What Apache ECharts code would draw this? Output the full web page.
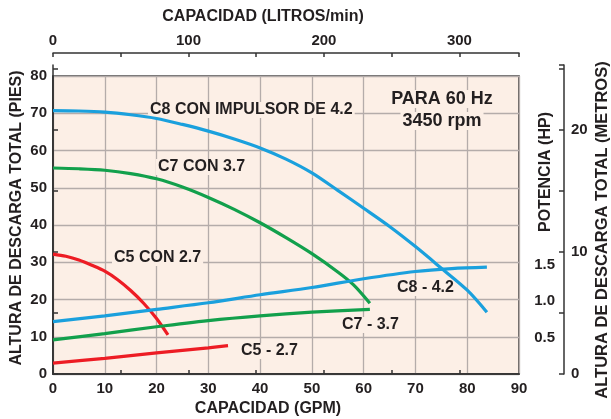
<!DOCTYPE html>
<html>
<head>
<meta charset="utf-8">
<script src="https://cdn.jsdelivr.net/npm/echarts@6/dist/echarts.min.js"></script>
<style>
  html, body { margin: 0; padding: 0; background: #fff; }
  #main { width: 611px; height: 419px; }
</style>
</head>
<body>
<div id="main"></div>
<script>
// capacidad (GPM) and altura (pies)
var c8HeadGpm = [0, 5, 10, 15, 20, 25, 30, 35, 40, 45, 50, 55, 60, 65, 70, 75, 80, 83.8];
var c8HeadFt  = [70.7, 70.6, 70.3, 69.6, 68.6, 67, 65.2, 63.1, 60.7, 57.7, 54, 49.3, 44.5, 39.6, 34.2, 28.4, 22.5, 16.6];
var c7HeadGpm = [0, 5, 10, 15, 20, 25, 30, 35, 40, 45, 50, 55, 58, 61.2];
var c7HeadFt  = [55.3, 55.1, 54.7, 53.8, 52.4, 50.2, 47.4, 44.2, 40.6, 36.6, 32.3, 27.4, 24, 19];
var c5HeadGpm = [0, 2.5, 5, 7.5, 10, 12.5, 15, 17.5, 20, 22.2];
var c5HeadFt  = [32.2, 31.6, 30.6, 29.2, 27.6, 25.3, 22.4, 19, 14.9, 10.5];

// potencia (HP) curves
var c8HpGpm = [0, 10, 20, 30, 40, 50, 60, 70, 77, 83.8];
var c8Hp    = [0.72, 0.8, 0.89, 0.98, 1.09, 1.19, 1.31, 1.41, 1.45, 1.47];
var c7HpGpm = [0, 10, 20, 30, 40, 50, 61.2];
var c7Hp    = [0.47, 0.555, 0.65, 0.735, 0.8, 0.85, 0.89];
var c5HpGpm = [0, 10, 20, 30, 33.8];
var c5Hp    = [0.15, 0.215, 0.29, 0.36, 0.39];

var hpLabels = [0.5, 1.0, 1.5];
var meterLabels = [0, 10, 20];
var litrosLabels = [0, 100, 200, 300];

var FONT = '"Liberation Sans", Arial, Helvetica, sans-serif';
var INK = '#231f20';
var BLUE = '#1aa0dd', GREEN = '#12a04c', RED = '#ed1c24';

function pairs(xs, ys) {
  return xs.map(function (x, i) { return [x, ys[i]]; });
}

function curve(name, xs, ys, color, yIdx) {
  return {
    name: name, type: 'line', xAxisIndex: 0, yAxisIndex: yIdx,
    data: pairs(xs, ys), showSymbol: false, smooth: 0.3,
    lineStyle: { color: color, width: 3.2 }, itemStyle: { color: color },
    silent: true, z: 3
  };
}

function txt(s, x, y, size, opts) {
  opts = opts || {};
  return {
    type: 'text', x: x, y: y, rotation: opts.rot || 0, z: 1,
    style: {
      text: s, font: 'bold ' + size + 'px ' + FONT, fill: INK,
      align: opts.align || 'left', verticalAlign: 'middle',
      backgroundColor: opts.bg || null, padding: opts.bg ? [0, 2] : 0
    }
  };
}

var chartDom = document.getElementById('main');
var myChart = echarts.init(chartDom, null, { renderer: 'canvas' });

var tickLabel = { color: INK, fontSize: 15, fontWeight: 'bold', fontFamily: FONT };
var darkLine = { lineStyle: { color: '#333', width: 1.5 } };
var PLOT = '#fcefe6';

var option = {
  animation: false,
  grid: [
    { left: 53, right: 92, top: 76, bottom: 45, show: true, backgroundColor: PLOT,
      borderColor: '#3a3a3a', borderWidth: 1.5 },
    { left: 53, right: 47, top: 65, bottom: 45 }
  ],
  xAxis: [
    { type: 'value', gridIndex: 0, position: 'bottom', min: 0, max: 90, interval: 10,
      axisLine: darkLine, axisTick: { show: false },
      axisLabel: Object.assign({ margin: 7 }, tickLabel),
      splitLine: { lineStyle: { color: '#b4acaa', width: 1.3 } } },
    { type: 'value', gridIndex: 0, position: 'top', offset: 23, min: 0, max: 344, interval: 50,
      axisLine: darkLine, axisTick: { length: 4, lineStyle: { color: '#333', width: 1.5 } },
      axisLabel: Object.assign({ margin: 5, showMaxLabel: false, formatter: function (v) {
        return litrosLabels.indexOf(v) >= 0 ? String(v) : ''; } }, tickLabel),
      splitLine: { show: false } },
    { type: 'value', gridIndex: 0, position: 'top', offset: 23, min: 0, max: 344, interval: 50,
      axisLine: darkLine, axisTick: { inside: true, length: 4, lineStyle: { color: '#333', width: 1.5 } },
      axisLabel: { show: false }, splitLine: { show: false } },
    { type: 'value', gridIndex: 1, show: false, min: 0, max: 1 }
  ],
  yAxis: [
    { type: 'value', gridIndex: 0, min: 0, max: 80, interval: 10,
      axisLine: darkLine, axisTick: { show: false },
      axisLabel: Object.assign({ margin: 6 }, tickLabel),
      splitLine: { lineStyle: { color: '#b4acaa', width: 1.3 } } },
    { type: 'value', gridIndex: 0, position: 'right', offset: 45, min: 0, max: 4.1, interval: 0.5,
      axisLine: { show: false }, axisTick: { show: false }, splitLine: { show: false },
      axisLabel: Object.assign({ inside: true, margin: 9, showMaxLabel: false, formatter: function (v) {
        return hpLabels.indexOf(+v.toFixed(1)) >= 0 ? v.toFixed(1) : ''; } }, tickLabel) },
    { type: 'value', gridIndex: 1, position: 'right', min: 0, max: 25.3, interval: 5,
      axisLine: darkLine, axisTick: { length: 5, lineStyle: { color: '#333', width: 1.5 } },
      axisLabel: Object.assign({ margin: 7, showMaxLabel: false, formatter: function (v) {
        return meterLabels.indexOf(v) >= 0 ? String(v) : ''; } }, tickLabel),
      splitLine: { show: false } },
    { type: 'value', gridIndex: 1, position: 'right', min: 0, max: 25.3, interval: 5,
      axisLine: darkLine, axisTick: { inside: true, length: 5, lineStyle: { color: '#333', width: 1.5 } },
      axisLabel: { show: false }, splitLine: { show: false } }
  ],
  series: [
    curve('C8 CON IMPULSOR DE 4.2', c8HeadGpm, c8HeadFt, BLUE, 0),
    curve('C7 CON 3.7', c7HeadGpm, c7HeadFt, GREEN, 0),
    curve('C5 CON 2.7', c5HeadGpm, c5HeadFt, RED, 0),
    curve('C8 - 4.2', c8HpGpm, c8Hp, BLUE, 1),
    curve('C7 - 3.7', c7HpGpm, c7Hp, GREEN, 1),
    curve('C5 - 2.7', c5HpGpm, c5Hp, RED, 1)
  ],
  graphic: { elements: [
    txt('CAPACIDAD (LITROS/min)', 263, 17, 16, { align: 'center' }),
    txt('CAPACIDAD (GPM)', 268, 409, 16, { align: 'center' }),
    txt('ALTURA DE DESCARGA TOTAL (PIES)', 17, 218, 16, { align: 'center', rot: Math.PI / 2 }),
    txt('ALTURA DE DESCARGA TOTAL (METROS)', 602, 230, 16.5, { align: 'center', rot: Math.PI / 2 }),
    txt('POTENCIA (HP)', 546, 172, 16, { align: 'center', rot: Math.PI / 2 }),
    txt('C8 CON IMPULSOR DE 4.2', 148, 110, 16, { bg: PLOT }),
    txt('C7 CON 3.7', 156, 167, 16, { bg: PLOT }),
    txt('C5 CON 2.7', 112, 258, 16, { bg: PLOT }),
    txt('C8 - 4.2', 395, 288, 16, { bg: PLOT }),
    txt('C7 - 3.7', 340, 325, 16, { bg: PLOT }),
    txt('C5 - 2.7', 239, 351, 16, { bg: PLOT }),
    txt('PARA 60 Hz', 442, 99, 18, { align: 'center', bg: PLOT }),
    txt('3450 rpm', 442, 121, 18, { align: 'center', bg: PLOT })
  ] }
};

myChart.setOption(option);
window.addEventListener('resize', function () { myChart.resize(); });
</script>
</body>
</html>
